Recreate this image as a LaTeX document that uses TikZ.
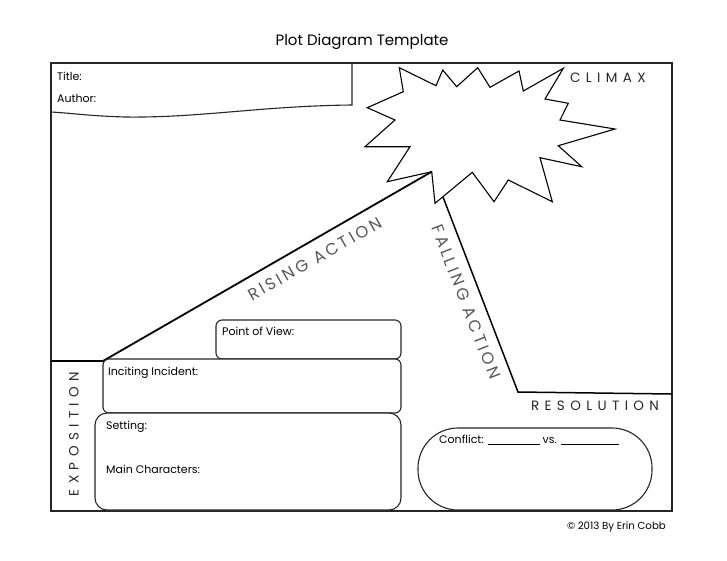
\documentclass[tikz,border=0pt]{standalone}
\usepackage{fontspec}
\setmainfont{Poppins}
\newfontfamily\spaced[LetterSpace=40]{Poppins}
\newfontfamily\spacedb[LetterSpace=18]{Poppins}
\begin{document}
\begin{tikzpicture}[x=1pt,y=-1pt,
  frame/.style={line width=1.1pt,draw=black!85},
  plotline/.style={line width=1.8pt,draw=black},
  box/.style={line width=1.1pt,draw=black!85,rounded corners=6pt},
  lab/.style={font=\fontsize{11}{13}\selectfont,anchor=west,inner sep=0pt},
  big/.style={font=\spaced\fontsize{13.5}{15}\selectfont,inner sep=0pt,text=black!85},
  diag/.style={font=\spacedb\fontsize{16.5}{18}\selectfont,inner sep=0pt,text=black!65}]
\useasboundingbox (0,0) rectangle (727,560);
% heading
\node[font=\fontsize{15}{17}\selectfont,inner sep=0pt] (head) at (362,42) {Plot Diagram Template};
% outer frame
\draw[frame] (51,63) rectangle (672,511);
% title box
\draw[frame] (352,63) -- (352,105) .. controls (260,106) and (200,118) .. (125,117)
  .. controls (90,116) and (70,113) .. (51,112);
\node[lab] (ttl) at (57,76) {Title:};
\node[lab] (auth) at (57,98) {Author:};
% starburst
\draw[line width=1.1pt,fill=white,line join=miter]
 (399.3,67.7) -- (436,85.7) -- (442.7,70) -- (456.7,86.7) -- (477.7,67.7) -- (490,87.3)
 -- (519,71) -- (523.3,91) -- (563.3,68.3) -- (545,99) -- (568.3,103.3) -- (560,120)
 -- (615,129) -- (558.3,145.7) -- (581.7,166.7) -- (540,157.7) -- (552.3,201.7)
 -- (508.3,180) -- (494,201.7) -- (472.3,172.3) -- (435,203.3) -- (431.7,171.7)
 -- (387.3,181.7) -- (410,146.7) -- (365,146.7) -- (395,120) -- (367.3,107.7)
 -- (403.3,91.7) -- cycle;
\coordinate (peak) at (431.7,171.7);
\coordinate (fallstart) at (443,197);
\coordinate (fallend) at (518,392);
\coordinate (resend) at (672,394);
\coordinate (incite) at (103,361);
\coordinate (expleft) at (51,361);
\node[big] (climax) at (608,78) {CLIMAX};
% plot lines
\draw[plotline] (expleft) -- (incite) -- (peak);
\draw[line width=1.5pt] (fallstart) -- (fallend) -- (resend);
\node[diag,rotate=29.7] (rising) at (315,259) {RISING ACTION};
\node[diag,rotate=-68.8] (falling) at (466,302) {FALLING ACTION};
\node[big] (resol) at (595,406) {RESOLUTION};
\node[big,rotate=90] (expo) at (74,434) {EXPOSITION};
% boxes
\draw[box] (216,320) rectangle (401,359);
\node[lab] (pov) at (222,331) {Point of View:};
\draw[box,fill=white] (103,359) rectangle (401,413);
\node[lab] (inc) at (108,373) {Inciting Incident:};
\draw[box,rounded corners=12pt,fill=white] (95,413) rectangle (401,510);
\node[lab] (set) at (106,427) {Setting:};
\node[lab] (mainc) at (106,469) {Main Characters:};
\draw[box,rounded corners=40pt] (418,428) rectangle (652,510);
\node[lab] (confl) at (439,440) {Conflict: \rule[-0.5pt]{52pt}{0.8pt} vs. \rule[-0.5pt]{58pt}{0.8pt}};
\node[font=\fontsize{10.2}{11}\selectfont,inner sep=0pt,anchor=east] (copy) at (666,527) {\textcopyright{} 2013 By Erin Cobb};
\end{tikzpicture}
\end{document}
